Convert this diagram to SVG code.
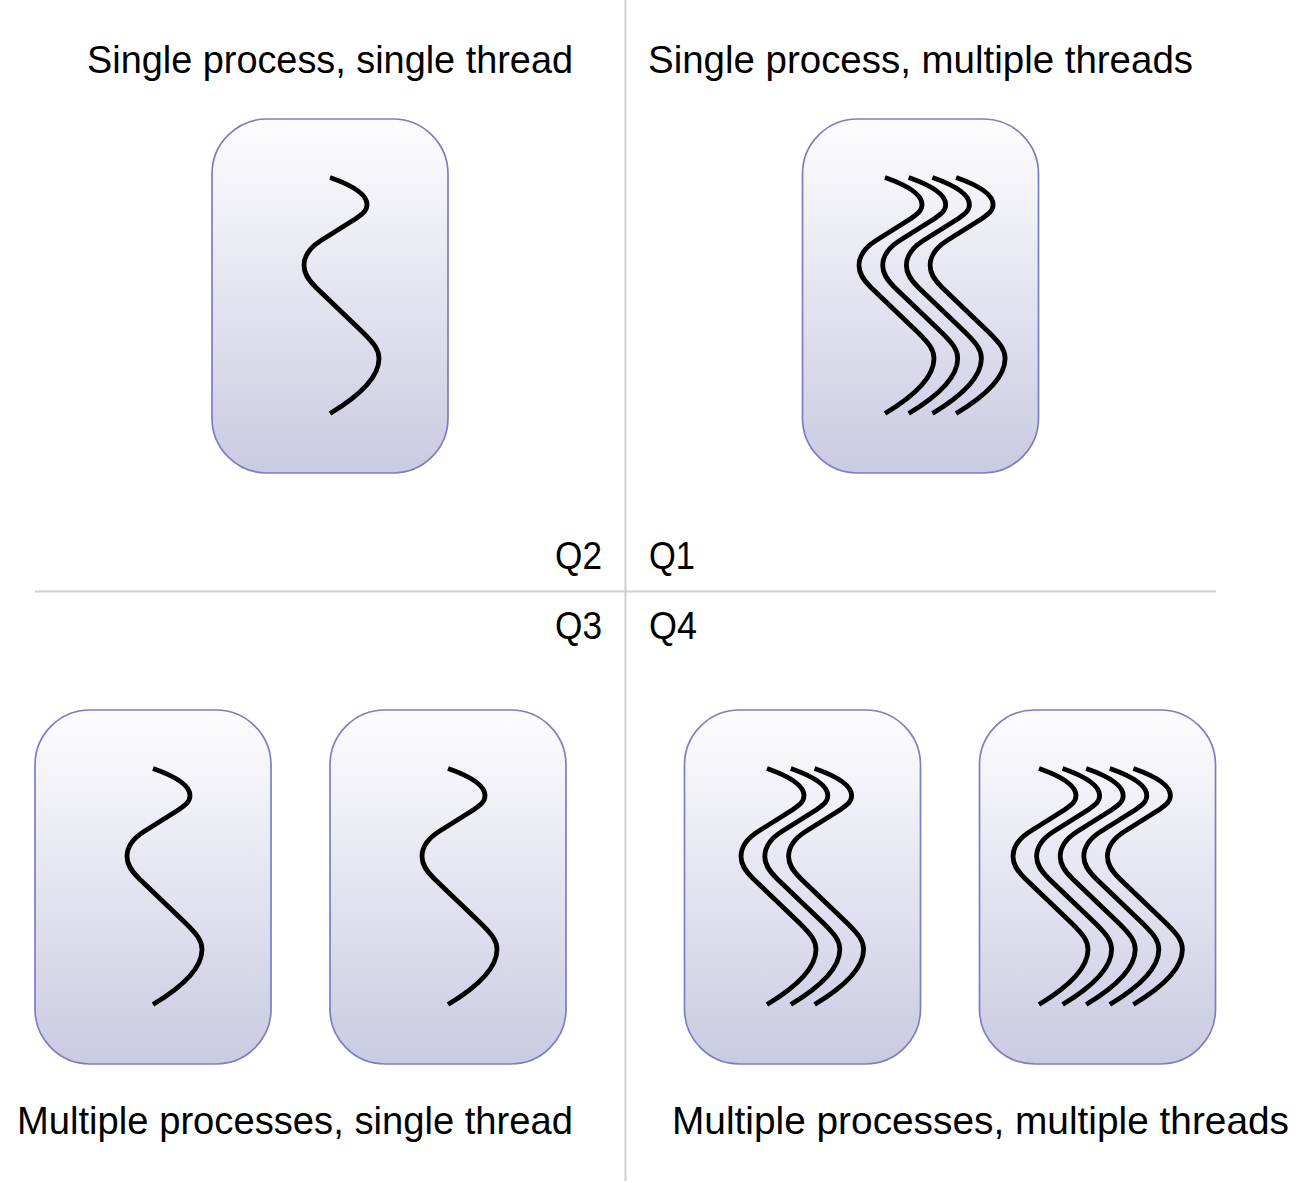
<svg xmlns="http://www.w3.org/2000/svg" xmlns:xlink="http://www.w3.org/1999/xlink" width="1304" height="1183" viewBox="0 0 1304 1183">
<style>
.box{fill:url(#g);stroke:#7d7dc2;stroke-width:1.7}
.th{fill:none;stroke:#000;stroke-width:4.8;stroke-linecap:butt}
.lbl{font-family:"Liberation Sans",Arial,sans-serif;font-size:39px;fill:#000}
.q{font-family:"Liberation Sans",Arial,sans-serif;font-size:38px;fill:#000}
.ax{stroke:#cfcfcf;stroke-width:2;fill:none}
</style>
<defs>
<linearGradient id="g" x1="0" y1="0" x2="0" y2="1">
<stop offset="0" stop-color="#fdfdfe"/>
<stop offset="1" stop-color="#cacae2"/>
</linearGradient>
<path id="thread" class="th" stroke-width="4.8" d="M0,0 C20,7 37,16 37,27 C37,33 33,36 26,41 L-9,63 C-20,70 -26,78 -26,88 C-26,96 -22,102 -14,110 L33,155 C44,166 49,172 49,181 C49,200 30,218 0,236"/>
</defs>
<rect width="1304" height="1183" fill="#fff"/>
<g id="axes">
<line class="ax" x1="625.5" y1="0" x2="625.5" y2="1181"/>
<line class="ax" x1="35" y1="591.5" x2="1216" y2="591.5"/>
</g>
<g id="labels">
<text class="lbl" x="87" y="73" textLength="486" lengthAdjust="spacingAndGlyphs">Single process, single thread</text>
<text class="lbl" x="648" y="73" textLength="545" lengthAdjust="spacingAndGlyphs">Single process, multiple threads</text>
<text class="lbl" x="17" y="1134" textLength="556" lengthAdjust="spacingAndGlyphs">Multiple processes, single thread</text>
<text class="lbl" x="672" y="1134" textLength="617" lengthAdjust="spacingAndGlyphs">Multiple processes, multiple threads</text>
<text class="q" x="555" y="569" textLength="47" lengthAdjust="spacingAndGlyphs">Q2</text>
<text class="q" x="649" y="569" textLength="46" lengthAdjust="spacingAndGlyphs">Q1</text>
<text class="q" x="555" y="639" textLength="47" lengthAdjust="spacingAndGlyphs">Q3</text>
<text class="q" x="649" y="639" textLength="48" lengthAdjust="spacingAndGlyphs">Q4</text>
</g>
<g id="q2-process">
<rect class="box" x="212" y="119" width="236" height="354" rx="55" ry="55"/>
<use xlink:href="#thread" href="#thread" transform="translate(330,177.5)"/>
</g>
<g id="q1-process">
<rect class="box" x="802.5" y="119" width="236" height="354" rx="55" ry="55"/>
<use xlink:href="#thread" href="#thread" transform="translate(885,177.5)"/>
<use xlink:href="#thread" href="#thread" transform="translate(908.7,177.5)"/>
<use xlink:href="#thread" href="#thread" transform="translate(932.4,177.5)"/>
<use xlink:href="#thread" href="#thread" transform="translate(956.1,177.5)"/>
</g>
<g id="q3-process-a">
<rect class="box" x="35" y="710" width="236" height="354" rx="55" ry="55"/>
<use xlink:href="#thread" href="#thread" transform="translate(153,768.5)"/>
</g>
<g id="q3-process-b">
<rect class="box" x="330" y="710" width="236" height="354" rx="55" ry="55"/>
<use xlink:href="#thread" href="#thread" transform="translate(448,768.5)"/>
</g>
<g id="q4-process-a">
<rect class="box" x="684.5" y="710" width="236" height="354" rx="55" ry="55"/>
<use xlink:href="#thread" href="#thread" transform="translate(767,768.5)"/>
<use xlink:href="#thread" href="#thread" transform="translate(790.8,768.5)"/>
<use xlink:href="#thread" href="#thread" transform="translate(814.6,768.5)"/>
</g>
<g id="q4-process-b">
<rect class="box" x="979.5" y="710" width="236" height="354" rx="55" ry="55"/>
<use xlink:href="#thread" href="#thread" transform="translate(1039,768.5)"/>
<use xlink:href="#thread" href="#thread" transform="translate(1062.6,768.5)"/>
<use xlink:href="#thread" href="#thread" transform="translate(1086.2,768.5)"/>
<use xlink:href="#thread" href="#thread" transform="translate(1109.8,768.5)"/>
<use xlink:href="#thread" href="#thread" transform="translate(1133.4,768.5)"/>
</g>
</svg>
